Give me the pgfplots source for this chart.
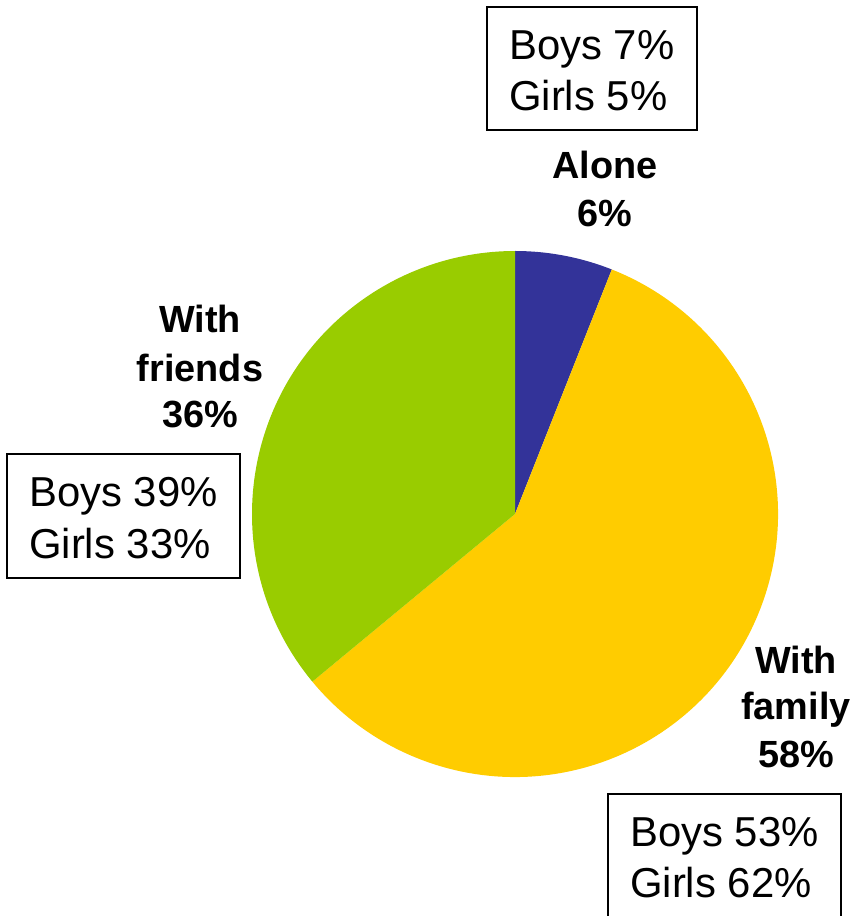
\documentclass[border=0pt]{standalone}
\usepackage{pgfplots}
\pgfplotsset{compat=1.18}
\usepackage{fontspec}
\setmainfont{Liberation Sans}
\definecolor{cAlone}{HTML}{333399}
\definecolor{cFamily}{HTML}{FFCC00}
\definecolor{cFriends}{HTML}{99CC00}
% #1 = cumulative share before the slice, #2 = share (%), #3 = colour
\newcommand\slice[3]{%
  \fill[fill=#3] (axis cs:515,402) -- ++({90-3.6*#1}:263bp) arc[start angle={90-3.6*#1}, delta angle={-3.6*#2}, radius=263bp] -- cycle;}
\newcommand\lab[3]{\node[anchor=base, font=\bfseries\fontsize{38}{46}\selectfont, inner sep=0pt] at (axis cs:#1,#2) {#3};}
\newcommand\reg[3]{\node[anchor=base west, font=\fontsize{42}{50}\selectfont, inner sep=0pt] at (axis cs:#1,#2) {#3};}
\begin{document}
\begin{tikzpicture}
\begin{axis}[x=1bp,y=1bp,xmin=0,xmax=852,ymin=0,ymax=916,hide axis,clip=false,scale only axis,enlargelimits=false]
\slice{0}{6}{cAlone}
\slice{6}{58}{cFamily}
\slice{64}{36}{cFriends}
\lab{605}{737}{Alone}
\lab{605}{689}{6\%}
\lab{200}{583}{With}
\lab{200}{534}{friends}
\lab{200}{488}{36\%}
\lab{796}{243}{With}
\lab{796}{197}{family}
\lab{796}{149}{58\%}
\draw[line width=1.8bp] (axis cs:487,909) rectangle (axis cs:697,786);
\reg{509}{856}{Boys 7\%}
\reg{509}{805}{Girls 5\%}
\draw[line width=1.8bp] (axis cs:7,462) rectangle (axis cs:240,338);
\reg{29}{409}{Boys 39\%}
\reg{29}{358}{Girls 33\%}
\draw[line width=1.8bp] (axis cs:608,-10) -- (axis cs:608,122) -- (axis cs:841,122) -- (axis cs:841,-10);
\reg{630}{70}{Boys 53\%}
\reg{630}{19}{Girls 62\%}
\end{axis}
\pgfresetboundingbox
\path (0,0) rectangle (852bp,916bp);
\end{tikzpicture}
\end{document}
